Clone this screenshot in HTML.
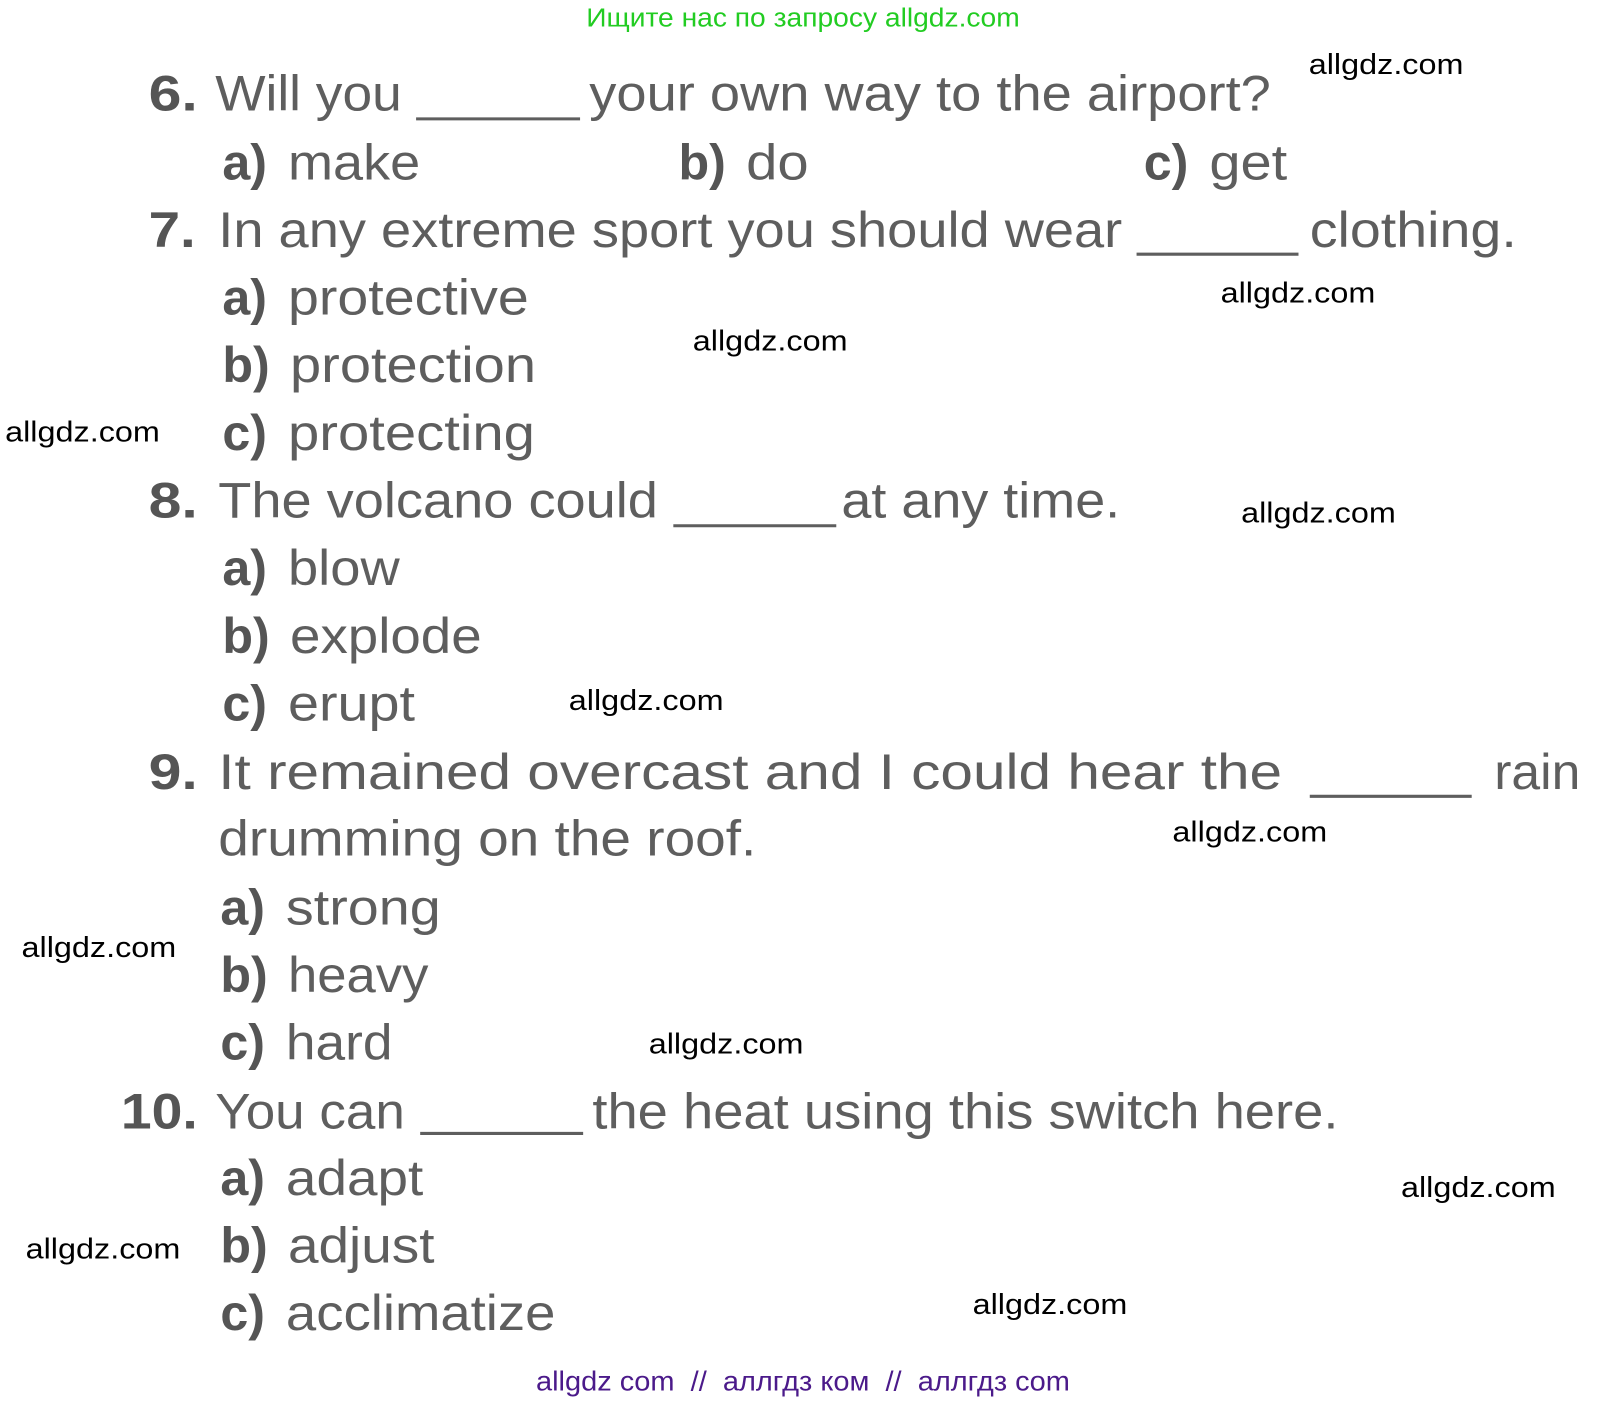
<!DOCTYPE html>
<html><head><meta charset="utf-8"><style>
html,body{margin:0;padding:0;background:#fff;}
svg{display:block;}
.m{font-family:"Liberation Sans",sans-serif;font-size:49px;fill:#5e5e5e;}
.b{font-family:"Liberation Sans",sans-serif;font-size:49px;font-weight:bold;fill:#555;}
.w{font-family:"Liberation Sans",sans-serif;font-size:28px;fill:#000;}
line{stroke:#5e5e5e;stroke-width:3;}
</style></head><body>
<svg width="1608" height="1404" viewBox="0 0 1569 1370" preserveAspectRatio="none" xmlns="http://www.w3.org/2000/svg">
<text x="572" y="26" font-family="Liberation Sans, sans-serif" font-size="25" fill="#22cc22" textLength="423" lengthAdjust="spacingAndGlyphs">Ищите нас по запросу allgdz.com</text>

<text class="b" x="145" y="108" textLength="48" lengthAdjust="spacingAndGlyphs">6.</text>
<text class="m" x="210" y="108" textLength="182" lengthAdjust="spacingAndGlyphs">Will you</text>
<line x1="406" y1="116" x2="566" y2="116"/>
<text class="m" x="575" y="108" textLength="665" lengthAdjust="spacingAndGlyphs">your own way to the airport?</text>
<text class="b" x="217" y="175">a)</text><text class="m" x="281" y="175" textLength="129" lengthAdjust="spacingAndGlyphs">make</text>
<text class="b" x="662" y="175">b)</text><text class="m" x="728" y="175" textLength="61" lengthAdjust="spacingAndGlyphs">do</text>
<text class="b" x="1116" y="175">c)</text><text class="m" x="1180" y="175" textLength="76" lengthAdjust="spacingAndGlyphs">get</text>

<text class="b" x="145" y="241" textLength="46" lengthAdjust="spacingAndGlyphs">7.</text>
<text class="m" x="213" y="241" textLength="882" lengthAdjust="spacingAndGlyphs">In any extreme sport you should wear</text>
<line x1="1109" y1="248" x2="1267" y2="248"/>
<text class="m" x="1278" y="241" textLength="202" lengthAdjust="spacingAndGlyphs">clothing.</text>
<text class="b" x="217" y="307">a)</text><text class="m" x="281" y="307" textLength="235" lengthAdjust="spacingAndGlyphs">protective</text>
<text class="b" x="217" y="373">b)</text><text class="m" x="283" y="373" textLength="240" lengthAdjust="spacingAndGlyphs">protection</text>
<text class="b" x="217" y="439">c)</text><text class="m" x="281" y="439" textLength="241" lengthAdjust="spacingAndGlyphs">protecting</text>

<text class="b" x="145" y="505" textLength="48" lengthAdjust="spacingAndGlyphs">8.</text>
<text class="m" x="213" y="505" textLength="429" lengthAdjust="spacingAndGlyphs">The volcano could</text>
<line x1="657" y1="513" x2="816" y2="513"/>
<text class="m" x="821" y="505" textLength="272" lengthAdjust="spacingAndGlyphs">at any time.</text>
<text class="b" x="217" y="571">a)</text><text class="m" x="281" y="571" textLength="109" lengthAdjust="spacingAndGlyphs">blow</text>
<text class="b" x="217" y="637">b)</text><text class="m" x="283" y="637" textLength="187" lengthAdjust="spacingAndGlyphs">explode</text>
<text class="b" x="217" y="703">c)</text><text class="m" x="281" y="703" textLength="124" lengthAdjust="spacingAndGlyphs">erupt</text>

<text class="b" x="145" y="770" textLength="48" lengthAdjust="spacingAndGlyphs">9.</text>
<text class="m" x="213" y="770" textLength="1038" lengthAdjust="spacingAndGlyphs">It  remained  overcast  and  I  could  hear  the</text>
<line x1="1278" y1="777" x2="1436" y2="777"/>
<text class="m" x="1458" y="770" textLength="84" lengthAdjust="spacingAndGlyphs">rain</text>
<text class="m" x="213" y="835" textLength="525" lengthAdjust="spacingAndGlyphs">drumming on the roof.</text>
<text class="b" x="215" y="902">a)</text><text class="m" x="279" y="902" textLength="151" lengthAdjust="spacingAndGlyphs">strong</text>
<text class="b" x="215" y="968">b)</text><text class="m" x="281" y="968" textLength="137" lengthAdjust="spacingAndGlyphs">heavy</text>
<text class="b" x="215" y="1034">c)</text><text class="m" x="279" y="1034" textLength="104" lengthAdjust="spacingAndGlyphs">hard</text>

<text class="b" x="118" y="1101" textLength="75" lengthAdjust="spacingAndGlyphs">10.</text>
<text class="m" x="210" y="1101" textLength="185" lengthAdjust="spacingAndGlyphs">You can</text>
<line x1="410" y1="1106" x2="569" y2="1106"/>
<text class="m" x="578" y="1101" textLength="728" lengthAdjust="spacingAndGlyphs">the heat using this switch here.</text>
<text class="b" x="215" y="1166">a)</text><text class="m" x="279" y="1166" textLength="134" lengthAdjust="spacingAndGlyphs">adapt</text>
<text class="b" x="215" y="1232">b)</text><text class="m" x="281" y="1232" textLength="143" lengthAdjust="spacingAndGlyphs">adjust</text>
<text class="b" x="215" y="1298">c)</text><text class="m" x="279" y="1298" textLength="263" lengthAdjust="spacingAndGlyphs">acclimatize</text>

<g class="w">
<text class="w" x="1277" y="72" textLength="151" lengthAdjust="spacingAndGlyphs">allgdz.com</text>
<text class="w" x="1191" y="295" textLength="151" lengthAdjust="spacingAndGlyphs">allgdz.com</text>
<text class="w" x="676" y="342" textLength="151" lengthAdjust="spacingAndGlyphs">allgdz.com</text>
<text class="w" x="5" y="431" textLength="151" lengthAdjust="spacingAndGlyphs">allgdz.com</text>
<text class="w" x="1211" y="510" textLength="151" lengthAdjust="spacingAndGlyphs">allgdz.com</text>
<text class="w" x="555" y="693" textLength="151" lengthAdjust="spacingAndGlyphs">allgdz.com</text>
<text class="w" x="1144" y="821" textLength="151" lengthAdjust="spacingAndGlyphs">allgdz.com</text>
<text class="w" x="21" y="934" textLength="151" lengthAdjust="spacingAndGlyphs">allgdz.com</text>
<text class="w" x="633" y="1028" textLength="151" lengthAdjust="spacingAndGlyphs">allgdz.com</text>
<text class="w" x="1367" y="1168" textLength="151" lengthAdjust="spacingAndGlyphs">allgdz.com</text>
<text class="w" x="25" y="1228" textLength="151" lengthAdjust="spacingAndGlyphs">allgdz.com</text>
<text class="w" x="949" y="1282" textLength="151" lengthAdjust="spacingAndGlyphs">allgdz.com</text>
</g>
<text x="523" y="1357" font-family="Liberation Sans, sans-serif" font-size="27" fill="#4b1a8a" textLength="521" lengthAdjust="spacingAndGlyphs" xml:space="preserve">allgdz com  //  аллгдз ком  //  аллгдз com</text>
</svg>
</body></html>
